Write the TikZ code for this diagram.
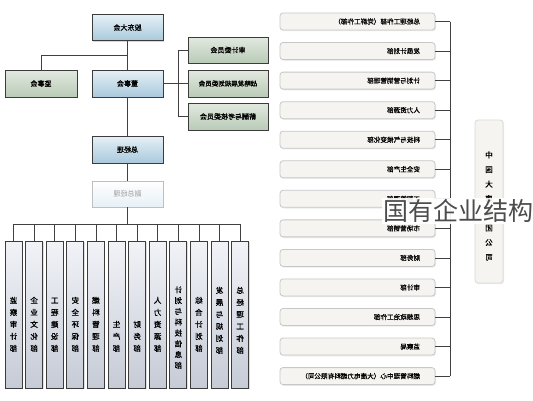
\documentclass[tikz,border=0pt]{standalone}
\usepackage{graphicx}
\usepackage{fontspec}
\newfontfamily\cjk{Noto Sans CJK SC}
\newfontfamily\cjkb[FakeBold=1.3]{Noto Sans CJK SC}
\newfontfamily\cjkm[FakeBold=0.7]{Noto Sans CJK SC}
\usepackage{tikz}
\usetikzlibrary{shadows}
\definecolor{blueTop}{HTML}{E6F0F6}
\definecolor{blueBot}{HTML}{A9C9DC}
\definecolor{greenTop}{HTML}{E2E9DF}
\definecolor{greenBot}{HTML}{B9CBB7}
\definecolor{colTop}{HTML}{F1F3F7}
\definecolor{colBot}{HTML}{C6CBD6}
\definecolor{listFill}{HTML}{F6F4F0}
\definecolor{boxLine}{HTML}{3C3C3C}
% mirrored text, as the chart prints it
\newcommand{\mir}[1]{\reflectbox{#1}}
\newcommand{\vmir}[2][12pt]{\reflectbox{\parbox{1.2em}{\centering\baselineskip=#1 #2}}}

\begin{document}
\begin{tikzpicture}[x=1pt,y=-1pt,
	link/.style={draw=black!75, line width=.8pt},
	bluebox/.style={draw=boxLine, line width=1pt, top color=blueTop, bottom color=blueBot, minimum width=71pt, minimum height=26pt, inner sep=0pt, drop shadow={shadow xshift=1.2pt, shadow yshift=-1.2pt, fill=black!30}, font=\cjkb\fontsize{7}{8}\selectfont},
	greenbox/.style={bluebox, top color=greenTop, bottom color=greenBot},
	fadebox/.style={draw=black!25, line width=.8pt, top color=white, bottom color=blueTop, minimum width=71pt, minimum height=26pt, inner sep=0pt, text=black!40, font=\cjk\fontsize{7}{8}\selectfont},
	colbox/.style={draw=boxLine, line width=1pt, top color=colTop, bottom color=colBot, minimum width=17pt, minimum height=147pt, inner sep=0pt, drop shadow={shadow xshift=1pt, shadow yshift=-1pt, fill=black!25}},
	listbox/.style={draw=black!22, line width=.8pt, fill=listFill, rounded corners=3pt, minimum width=155pt, minimum height=17pt, text width=125pt, align=right, inner sep=0pt, drop shadow={shadow xshift=1pt, shadow yshift=-1.2pt, fill=black!15}, font=\cjkm\fontsize{6.6}{8}\selectfont}]
	\useasboundingbox[fill=white] (0,0) rectangle (533,400);

	\node[bluebox] (gd) at (127.5,27.5) {\mir{股东大会}};
	\node[greenbox, minimum width=72pt, minimum height=27pt] (jsh) at (41,83.5) {\mir{监事会}};
	\node[bluebox, minimum height=27pt] (dsh) at (127.5,83.5) {\mir{董事会}};
	\node[greenbox, minimum width=80pt] (sjw) at (228,50) {\mir{审计委员会}};
	\node[greenbox, minimum width=80pt, minimum height=27pt, font=\cjkb\fontsize{6.5}{8}\selectfont] (zlw) at (228,83.5) {\mir{战略发展规划委员会}};
	\node[greenbox, minimum width=80pt, minimum height=27pt] (xcw) at (228,116.5) {\mir{薪酬与考核委员会}};
	\node[bluebox, minimum height=27pt] (zjl) at (127.5,149.5) {\mir{总经理}};
	\node[fadebox] (fzjl) at (127.5,194) {\mir{副总经理}};

	\coordinate (j1) at (127.5,55);
	\coordinate (j2) at (178,83.5);
	\coordinate (bus) at (127.5,224);
	\draw[link] (gd) -- (dsh);
	\draw[link] (jsh.north) |- (j1);
	\draw[link] (dsh.east) -- (j2);
	\draw[link] (sjw.west) -| (j2);
	\draw[link] (zlw.west) -- (j2);
	\draw[link] (xcw.west) -| (j2);
	\draw[link] (dsh) -- (zjl);
	\draw[link] (zjl) -- (fzjl);
	\draw[link] (fzjl) -- (bus);

	\foreach \i/\ty/\txt in {1/352/{监\\察\\审\\计\\部}, 2/352/{企\\业\\文\\化\\部}, 3/352/{工\\程\\建\\设\\部}, 4/352/{安\\全\\环\\保\\部}, 5/352/{燃\\料\\管\\理\\部}, 6/352/{生\\产\\部}, 7/352/{财\\务\\部}, 8/352/{人\\力\\资\\源\\部}, 9/369/{计\\划\\与\\科\\技\\信\\息\\部}, 10/352/{综\\合\\计\\划\\部}, 11/354/{发\\展\\与\\规\\划\\部}, 12/354/{总\\经\\理\\工\\作\\部}}{
		\node[colbox] (c\i) at ({13.5+(\i-1)*20.6},314.5) {};
		\node[anchor=south, inner sep=0pt, font=\cjkb\fontsize{7.5}{9}\selectfont] at (c\i.center |- 0,\ty) {\vmir[\ifnum\i=9 10.8pt\else 12pt\fi]{\txt}};
		\draw[link] (c\i.north |- bus) -- (c\i.north);
	}
	\draw[link] (c1.north |- bus) -- (c12.north |- bus);

	\coordinate (bx) at (450,0);
	\foreach \i/\txt in {1/总经理工作部（党群工作部）, 2/发展计划部, 3/计划与营销管理部, 4/人力资源部, 5/科技与气候变化部, 6/安全生产部, 7/工程管理部, 8/市场营销部, 9/财务部, 10/审计部, 11/思想政治工作部, 12/监察局, 13/燃料管理中心（大唐电力燃料有限公司）}{
		\node[listbox] (r\i) at (357.5,{21.5+(\i-1)*29.55}) {\mir{\txt}};
		\draw[link] (r\i.east) -- (r\i.east -| bx);
	}
	\draw[link] (r1.east -| bx) -- (r13.east -| bx);

	\node[draw=black!15, line width=.8pt, fill=listFill, rounded corners=3pt, minimum width=28pt, minimum height=163pt, drop shadow={shadow xshift=1pt, shadow yshift=-1.2pt, fill=black!15}] (dt) at (489,201.5) {};
	\node[inner sep=0pt, font=\cjkb\fontsize{7.5}{9}\selectfont] at (dt.center |- 0,206) {\vmir[14.6pt]{中\\国\\大\\唐\\集\\团\\公\\司}};

	\node[anchor=west, fill=white, fill opacity=.92, text opacity=1, text=black!70, inner sep=1pt, font=\cjk\fontsize{25}{26}\selectfont] (wm) at (382,211) {国有企业结构};
\end{tikzpicture}
\end{document}
